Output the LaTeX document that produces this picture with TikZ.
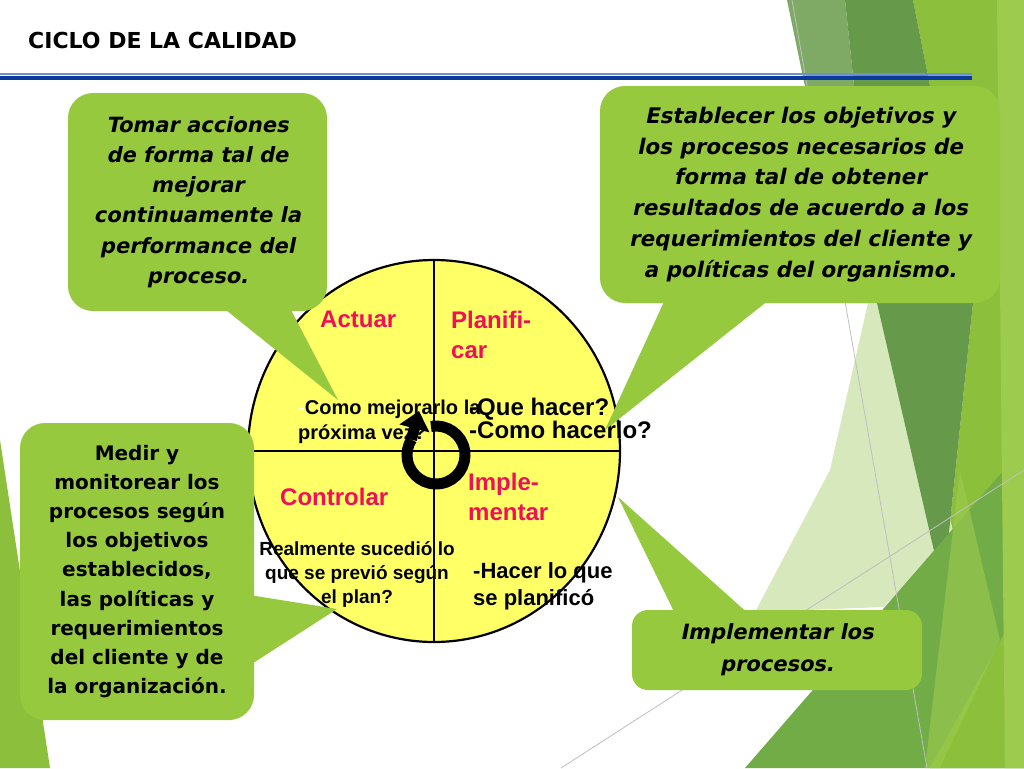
\documentclass[tikz,border=0pt]{standalone}
\usepackage{fontspec}
\setmainfont{DejaVu Sans}[
  BoldFont={DejaVu Sans Bold},
  ItalicFont={DejaVu Sans},
  ItalicFeatures={FakeSlant=0.2},
  BoldItalicFont={DejaVu Sans Bold},
  BoldItalicFeatures={FakeSlant=0.2}]
\newfontfamily\arial{Liberation Sans}
\usetikzlibrary{calc,arrows.meta}
\definecolor{verde}{HTML}{96C93D}
\definecolor{lima}{HTML}{8CBF3B}
\definecolor{limaclaro}{HTML}{9DCB4E}
\definecolor{verdeoscuro}{HTML}{66994A}
\definecolor{verdegris}{HTML}{7FAA66}
\definecolor{verdemedio}{HTML}{72AC47}
\definecolor{verdepalido}{HTML}{D7E8BC}
\definecolor{amarillo}{HTML}{FFFF66}
\definecolor{rojo}{HTML}{F0105A}
\definecolor{azul}{HTML}{0A3A9A}
\definecolor{azulclaro}{HTML}{7090C8}
\tikzset{
    globo/.style={fill=verde, rounded corners=25pt, inner sep=0pt, align=center},
    fase/.style={text=rojo, inner sep=0pt, align=left,
      font=\arial\bfseries\fontsize{24}{30}\selectfont},
    pregunta/.style={inner sep=0pt, font=\arial\bfseries\fontsize{19}{24}\selectfont},
  }

\begin{document}
\begin{tikzpicture}[x=1pt,y=-1pt]
      \useasboundingbox (0,0) rectangle (1024,768);
      \fill[white] (0,0) rectangle (1024,768);

      % fondo verde
      \fill[lima] (913,0) -- (1024,0) -- (1024,768) -- (930,768) -- (943,590) -- (973,303) -- cycle;
      \fill[verdegris] (787,0) -- (845,0) -- (877,303) -- (850,303) -- cycle;
      \fill[verdepalido] (868,303) -- (900,303) -- (955,540) -- (883,607) -- (755,612) -- (830,470) -- cycle;
      \fill[verdeoscuro] (845,0) -- (913,0) -- (973,303) -- (943,590) -- (877,303) -- cycle;
      \fill[verdemedio] (745,768) -- (1024,447) -- (1024,768) -- cycle;
      \fill[lima] (930,768) -- (1024,598) -- (1024,768) -- cycle;
      \fill[limaclaro, opacity=0.6] (960,470) -- (1000,640) -- (940,768) -- (925,768) -- cycle;
      \fill[limaclaro] (997,0) -- (1024,0) -- (1024,768) -- (1005,768) -- cycle;
      \fill[lima] (0,440) -- (50,768) -- (0,768) -- cycle;
      \draw[black!25, line width=0.8pt] (792,0) -- (927,768);
      \draw[black!25, line width=0.8pt] (561,768) -- (1024,470);

      % titulo
      \node[anchor=west, inner sep=0pt, font=\bfseries\fontsize{22}{26}\selectfont] (titulo) at (28,40) {CICLO DE LA CALIDAD};
      \draw[azulclaro, line width=1.2pt] (0,74) -- (972,74);
      \draw[azul, line width=3.5pt] (0,78) -- (972,78);

      % circulo
      \coordinate (centro) at (434,451);
      \draw[fill=amarillo, line width=2.2pt] (centro) ellipse [x radius=186, y radius=191];
      \draw[line width=2pt] (centro) ++(0,-191) -- ++(0,382);
      \draw[line width=2pt] (centro) ++(-186,0) -- ++(372,0);

      % fases
      \node[fase, anchor=west] (tActuar) at (320,319) {Actuar};
      \node[fase, anchor=west] (tPlan) at (451,335) {Planifi-\\car};
      \node[fase, anchor=west] (tImpl) at (468,497) {Imple-\\mentar};
      \node[fase, anchor=west] (tControl) at (280,497) {Controlar};

      % preguntas
      \node[pregunta, anchor=west, align=left, font=\arial\bfseries\fontsize{20}{25}\selectfont] (qActuar) at (298,422) {{\color{white}-}Como mejorarlo la\\ próxima vez?};
      \node[pregunta, anchor=west, align=left, font=\arial\bfseries\fontsize{24}{23}\selectfont] (qPlan) at (469,418) {-Que hacer?\\-Como hacerlo?};
      \node[pregunta, align=center] (qControl) at (357,574) {Realmente sucedió lo\\que se previó según\\el plan?};
      \node[pregunta, anchor=west, align=left, font=\arial\bfseries\fontsize{22}{27}\selectfont] (qImpl) at (473,586) {-Hacer lo que\\se planificó};

      % flecha del ciclo
      \coordinate (giro) at (436,455);
      \coordinate (punta) at (419,411);
      \draw[line width=11pt] ([shift={(-100:29)}]giro) arc[start angle=-100, end angle=212, radius=29] coordinate (finGiro);
      \draw[line width=11pt, -{Triangle[length=18pt,width=30pt]}] (finGiro) -- (punta);

      % globos
      \coordinate (tipA) at (338,400);
      \coordinate (tipP) at (605,430);
      \coordinate (tipC) at (337,609);
      \coordinate (tipI) at (618,497);

      \node[globo, minimum width=259pt, minimum height=218pt,
        font=\bfseries\itshape\fontsize{21}{30.3}\selectfont] (actuar) at (197.5,202)
        {Tomar acciones\\de forma tal de\\mejorar\\continuamente la\\performance del\\proceso.};
      \fill[verde] ($(actuar.south)+(20,-8)$) -- (tipA) -- ($(actuar.south)+(90,-8)$) -- cycle;

      \node[globo, minimum width=400pt, minimum height=217pt,
        font=\bfseries\itshape\fontsize{21.5}{30.8}\selectfont] (planificar) at (800,194.5)
        {Establecer los objetivos y\\los procesos necesarios de\\forma tal de obtener\\resultados de acuerdo a los\\requerimientos del cliente y\\a políticas del organismo.};
      \fill[verde] ($(planificar.south)+(-133,-8)$) -- (tipP) -- ($(planificar.south)+(-25,-8)$) -- cycle;

      \node[globo, minimum width=234pt, minimum height=297pt,
        font=\bfseries\fontsize{20}{29.2}\selectfont] (controlar) at (137,571.5)
        {Medir y\\monitorear los\\procesos según\\los objetivos\\establecidos,\\las políticas y\\requerimientos\\del cliente y de\\la organización.};
      \fill[verde] ($(controlar.east)+(-8,23)$) -- (tipC) -- ($(controlar.east)+(-8,96)$) -- cycle;

      \node[globo, rounded corners=16pt, minimum width=290pt, minimum height=80pt,
        font=\bfseries\itshape\fontsize{21}{32}\selectfont] (implementar) at (777,650)
        {Implementar los\\procesos.};
      \fill[verde] ($(implementar.north)+(-100,8)$) -- (tipI) -- ($(implementar.north)+(-24,8)$) -- cycle;
    \end{tikzpicture}
\end{document}
